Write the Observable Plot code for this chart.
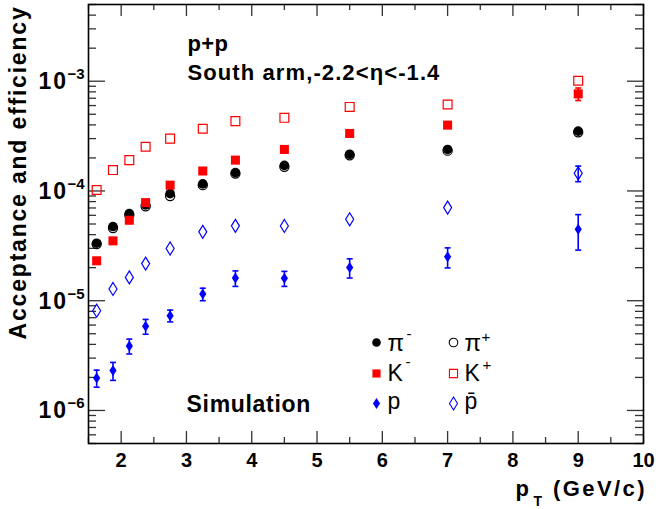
<!DOCTYPE html>
<html><head><meta charset="utf-8">
<script src="https://cdn.jsdelivr.net/npm/d3@7"></script>
<script src="https://cdn.jsdelivr.net/npm/@observablehq/plot@0.6"></script>
<style>body{margin:0;background:#fff;}</style>
</head><body><div id="chart"></div>
<script>
// ---- data ----
const pT = [1.625, 1.875, 2.125, 2.375, 2.75, 3.25, 3.75, 4.5, 5.5, 7, 9];
const piMinus = [3.34e-5, 4.74e-5, 6.22e-5, 7.46e-5, 9.46e-5, 1.16e-4, 1.47e-4, 1.71e-4, 2.16e-4, 2.39e-4, 3.51e-4];
const piPlus  = [3.28e-5, 4.60e-5, 6.05e-5, 7.25e-5, 9.00e-5, 1.13e-4, 1.44e-4, 1.66e-4, 2.11e-4, 2.33e-4, 3.42e-4];
const kMinus  = [2.31e-5, 3.51e-5, 5.41e-5, 7.83e-5, 1.13e-4, 1.52e-4, 1.91e-4, 2.39e-4, 3.34e-4, 3.98e-4, 7.67e-4];
const kMinusErr = [0, 0, 0, 0, 0, 0, 0, 0, 0, 0, 1.0e-4];
const kPlus   = [1.02e-4, 1.55e-4, 1.91e-4, 2.53e-4, 3.00e-4, 3.69e-4, 4.33e-4, 4.64e-4, 5.83e-4, 6.13e-4, 1.01e-3];
const proton  = [1.98e-6, 2.31e-6, 3.87e-6, 5.85e-6, 7.31e-6, 1.15e-5, 1.61e-5, 1.60e-5, 2.01e-5, 2.51e-5, 4.49e-5];
const protonErr = [0.35e-6, 0.43e-6, 0.6e-6, 0.9e-6, 0.9e-6, 0.15e-5, 0.26e-5, 0.25e-5, 0.4e-5, 0.52e-5, 1.6e-5];
const pbar    = [8.11e-6, 1.28e-5, 1.63e-5, 2.18e-5, 2.99e-5, 4.24e-5, 4.81e-5, 4.80e-5, 5.52e-5, 7.05e-5, 1.45e-4];
const pbarErr = [0, 0, 0, 0, 0, 0, 0, 0, 0, 0, 0.235e-4];

const xMajor = [2, 3, 4, 5, 6, 7, 8, 9, 10];
const xLabels = ["2", "3", "4", "5", "6", "7", "8", "9", "10"];
const xMinor = [1.5, 2.5, 3.5, 4.5, 5.5, 6.5, 7.5, 8.5, 9.5];
const yMajor = [1e-6, 1e-5, 1e-4, 1e-3];
const yExp = ["\u22126", "\u22125", "\u22124", "\u22123"];
const yMinorMult = [2, 3, 4, 5, 6, 7, 8, 9];
const yDecades = [1e-7, 1e-6, 1e-5, 1e-4, 1e-3];

// ---- layout ----
const W = 659, H = 509, ML = 88, MR = 16, MT = 4, MB = 66;
const PW = W - ML - MR, PH = H - MT - MB;
const yDomain = [5e-7, 5e-3];
const yMinor = yDecades.flatMap(d => yMinorMult.map(m => d * m)).filter(v => v >= yDomain[0] && v <= yDomain[1]);

const rows = (ys, es) => pT.map((x, i) => ({x, y: ys[i], e: es ? es[i] : 0}));
const withErr = (ys, es) => rows(ys, es).filter(d => d.e > 0);

const diamondFilled = {draw(c) { c.moveTo(0, -5.5); c.lineTo(3.6, 0); c.lineTo(0, 5.5); c.lineTo(-3.6, 0); c.closePath(); }};
const diamondOpen = {draw(c) { c.moveTo(0, -6.5); c.lineTo(4, 0); c.lineTo(0, 6.5); c.lineTo(-4, 0); c.closePath(); }};
const capSym = {draw(c) { c.moveTo(-3, 0); c.lineTo(3, 0); }};

const tk = {stroke: "#333", strokeWidth: 1.3};
const bold = {fontWeight: "bold", fill: "black"};

const errMarks = (data, color) => [
  Plot.ruleX(data, {x: "x", y1: d => d.y - d.e, y2: d => d.y + d.e, stroke: color, strokeWidth: 1.6}),
  Plot.dot(data, {x: "x", y: d => d.y - d.e, symbol: capSym, stroke: color, strokeWidth: 1.6, fill: "none"}),
  Plot.dot(data, {x: "x", y: d => d.y + d.e, symbol: capSym, stroke: color, strokeWidth: 1.6, fill: "none"})
];

// legend helpers (pixel offsets from frame top-left)
const legDot = (dx, dy, opts) => Plot.dot([0], {frameAnchor: "top-left", dx: dx - ML, dy: dy - MT, ...opts});
const legText = (t, dx, dy, size) => Plot.text([t], {frameAnchor: "top-left", textAnchor: "start", lineAnchor: "bottom", dx: dx - ML, dy: dy - MT, fontSize: size, fill: "black"});

const chart = Plot.plot({
  width: W, height: H,
  marginLeft: ML, marginRight: MR, marginTop: MT, marginBottom: MB,
  style: {fontFamily: "'Liberation Sans', Arial, sans-serif", background: "white", overflow: "visible"},
  x: {type: "linear", domain: [1.5, 10], axis: null},
  y: {type: "log", domain: yDomain, axis: null},
  marks: [
    // inner ticks on all four sides
    Plot.tickY(yMajor, {y: d => d, insetRight: PW - 17, ...tk}),
    Plot.tickY(yMinor, {y: d => d, insetRight: PW - 8, ...tk}),
    Plot.tickY(yMajor, {y: d => d, insetLeft: PW - 16, ...tk}),
    Plot.tickY(yMinor, {y: d => d, insetLeft: PW - 8, ...tk}),
    Plot.tickX(xMajor, {x: d => d, insetTop: PH - 12, ...tk}),
    Plot.tickX(xMinor, {x: d => d, insetTop: PH - 6, ...tk}),
    Plot.tickX(xMajor, {x: d => d, insetBottom: PH - 12, ...tk}),
    Plot.tickX(xMinor, {x: d => d, insetBottom: PH - 6, ...tk}),
    Plot.frame({stroke: "black", strokeWidth: 1.6}),

    // tick labels
    Plot.text(yMajor, {y: d => d, text: () => "10", frameAnchor: "left", textAnchor: "end", lineAnchor: "bottom", dx: -20.5, dy: 8, fontSize: 23, ...bold}),
    Plot.text(yMajor, {y: d => d, text: yExp, frameAnchor: "left", textAnchor: "start", lineAnchor: "bottom", dx: -21, dy: -2, fontSize: 15, ...bold}),
    Plot.text(xMajor, {x: d => d, text: xLabels, frameAnchor: "bottom", textAnchor: "middle", lineAnchor: "bottom", dy: 23, fontSize: 20, ...bold}),

    // axis titles
    Plot.text(["Acceptance and efficiency"], {frameAnchor: "top-left", rotate: -90, textAnchor: "end", lineAnchor: "bottom", dx: 25 - ML, dy: 5 - MT, fontSize: 23, ...bold}),
    Plot.text(["p"], {frameAnchor: "bottom-right", textAnchor: "start", lineAnchor: "bottom", dx: 515 - (W - MR), dy: 52, fontSize: 22, ...bold}),
    Plot.text(["T"], {frameAnchor: "bottom-right", textAnchor: "start", lineAnchor: "bottom", dx: 533 - (W - MR), dy: 62, fontSize: 14, ...bold}),
    Plot.text(["(GeV/c)"], {frameAnchor: "bottom-right", textAnchor: "end", lineAnchor: "bottom", dx: 3.4, dy: 52, fontSize: 22, ...bold}),

    // annotations
    Plot.text(["p+p"], {frameAnchor: "top-left", textAnchor: "start", lineAnchor: "bottom", dx: 187 - ML, dy: 50 - MT, fontSize: 22, ...bold}),
    Plot.text(["South arm,-2.2<\u03b7<-1.4"], {frameAnchor: "top-left", textAnchor: "start", lineAnchor: "bottom", dx: 187 - ML, dy: 79 - MT, fontSize: 22, ...bold}),
    Plot.text(["Simulation"], {frameAnchor: "top-left", textAnchor: "start", lineAnchor: "bottom", dx: 186 - ML, dy: 411 - MT, fontSize: 23, ...bold}),

    // error bars
    ...errMarks(withErr(proton, protonErr), "#0000ff"),
    ...errMarks(withErr(pbar, pbarErr), "#0000ff"),
    ...errMarks(withErr(kMinus, kMinusErr), "#ff0000"),

    // data markers
    Plot.dot(rows(piMinus), {x: "x", y: "y", r: 4.8, fill: "black"}),
    Plot.dot(rows(piPlus), {x: "x", y: "y", r: 4.6, stroke: "black", fill: "none", strokeWidth: 1.2}),
    Plot.dot(rows(kMinus), {x: "x", y: "y", symbol: "square", r: 5.1, fill: "#ff0000"}),
    Plot.dot(rows(kPlus), {x: "x", y: "y", symbol: "square", r: 5.0, stroke: "#ff0000", fill: "none", strokeWidth: 1.2}),
    Plot.dot(rows(proton), {x: "x", y: "y", symbol: diamondFilled, fill: "#0000ff"}),
    Plot.dot(rows(pbar), {x: "x", y: "y", symbol: diamondOpen, stroke: "#0000ff", fill: "none", strokeWidth: 1.2}),

    // legend
    legDot(376, 342, {r: 4.3, fill: "black"}),
    legDot(453, 342, {r: 4.3, stroke: "black", fill: "none", strokeWidth: 1.1}),
    legDot(376, 373, {symbol: "square", r: 4.6, fill: "#ff0000"}),
    legDot(453, 373, {symbol: "square", r: 4.6, stroke: "#ff0000", fill: "none", strokeWidth: 1.1}),
    legDot(376, 403, {symbol: diamondFilled, fill: "#0000ff"}),
    legDot(453, 403, {symbol: diamondOpen, stroke: "#0000ff", fill: "none", strokeWidth: 1.1}),
    legText("\u03c0", 387, 350, 24),
    legText("-", 406, 338, 15),
    legText("\u03c0", 464, 350, 24),
    legText("+", 481, 341, 15),
    legText("K", 387, 380, 23),
    legText("-", 405, 366, 15),
    legText("K", 464, 380, 23),
    legText("+", 482, 369, 15),
    legText("p", 387, 408, 23),
    legText("p\u0304", 464, 408, 23)
  ]
});

// ROOT-like wider letter spacing for the bold labels
const spacing = {"Acceptance and efficiency": "1.8px", "(GeV/c)": "2.4px", "South arm,-2.2<\u03b7<-1.4": "1.1px", "Simulation": "0.7px", "p+p": "0.4px"};
d3.select(chart).selectAll("text").each(function () {
  const t = this.textContent;
  const fs = this.parentNode.getAttribute("font-size");
  if (spacing[t]) this.style.letterSpacing = spacing[t];
  else if (t === "10" && fs === "23") this.style.letterSpacing = "2px";
});
document.getElementById("chart").appendChild(chart);
</script>
</body></html>
